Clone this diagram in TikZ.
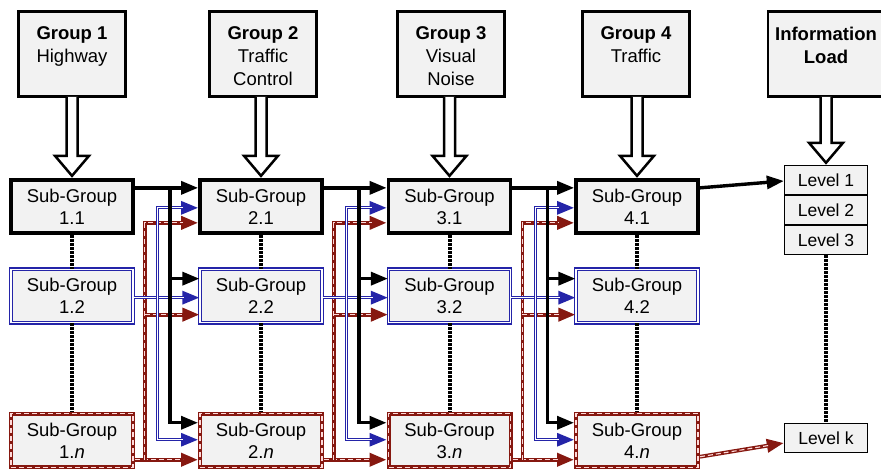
\documentclass[tikz,border=0pt]{standalone}
\usepackage{fontspec}
\setmainfont{Liberation Sans}
\usetikzlibrary{arrows.meta,calc}
\definecolor{boxfill}{HTML}{F2F2F2}
\definecolor{bluec}{HTML}{2424A8}
\definecolor{redc}{HTML}{861810}
\newcommand\holarrow[2]{%
  \draw[hol] let \p1=(#1.south), \p2=(#2.north) in
    (\x2-5.5pt,\y1+1pt) -- (\x2-5.5pt,\y2+22pt) -- (\x2-17pt,\y2+22pt) --
    (\x2,\y2+2pt) -- (\x2+17pt,\y2+22pt) -- (\x2+5.5pt,\y2+22pt) -- (\x2+5.5pt,\y1+1pt);}
\newcommand\twoline[3]{\draw[#1] #3; \draw[#2] #3;}
\begin{document}
\begin{tikzpicture}[x=1pt,y=-1pt,
  mytri/.tip={Triangle[length=17pt,width=13pt]},
  grp/.style={draw, line width=2.8pt, fill=boxfill, minimum width=107pt,
    minimum height=85pt, inner sep=0pt, font=\fontsize{18.5}{23}\selectfont},
  sub/.style={fill=boxfill, minimum width=122pt, minimum height=53.5pt,
    inner sep=0pt, align=center, font=\fontsize{18.5}{22}\selectfont},
  subk/.style={sub, draw, line width=3.8pt},
  subb/.style={sub, draw=bluec, line width=1.2pt, double=white, double distance=1.2pt},
  subr/.style={sub, draw=redc, line width=4pt,
    postaction={draw=white!85!red, line width=1.1pt, dash pattern=on 5pt off 3pt}},
  lvl/.style={draw, line width=1.4pt, fill=boxfill, minimum width=83pt,
    minimum height=29pt, inner sep=0pt, font=\fontsize{17.5}{20}\selectfont},
  hol/.style={draw, line width=2.5pt, fill=white, line join=miter},
  blk/.style={draw, line width=3.4pt, -mytri},
  blul/.style={draw=bluec, line width=3pt},
  bluin/.style={draw=white, line width=1pt, shorten >=15pt},
  bluin2/.style={draw=white, line width=1pt, shorten >=15pt, shorten <=15pt},
  redl/.style={draw=redc, line width=3.8pt},
  redin/.style={draw=white!85!red, line width=1.1pt, dash pattern=on 5pt off 3pt, shorten >=15pt},
  dts/.style={draw, line width=4pt, dash pattern=on 3pt off 1pt}]
\fill[white] (0,0) rectangle (881,470);
\useasboundingbox (0,0) rectangle (881,470);

% group boxes
\node[grp] (g1) at (72,54) {\parbox[c][54pt][t]{104pt}{\centering\textbf{Group 1}\\Highway}};
\node[grp] (g2) at (263,54) {\parbox[c][54pt][t]{104pt}{\centering\textbf{Group 2}\\Traffic\\Control}};
\node[grp] (g3) at (451,54) {\parbox[c][54pt][t]{104pt}{\centering\textbf{Group 3}\\Visual\\Noise}};
\node[grp] (g4) at (636,54) {\parbox[c][54pt][t]{104pt}{\centering\textbf{Group 4}\\Traffic}};
\node[grp, minimum width=116pt] (gi) at (826,54) {\parbox[c][54pt][t]{112pt}{\centering\textbf{Information}\\\textbf{Load}}};

% sub-group boxes
\node[subk] (s1-1) at (72,206.5) {Sub-Group\\1.1};
\node[subb] (s1-2) at (72,296) {Sub-Group\\1.2};
\node[subr] (s1-3) at (72,440.5) {Sub-Group\\1.\textit{n}};
\node[subk] (s2-1) at (261,206.5) {Sub-Group\\2.1};
\node[subb] (s2-2) at (261,296) {Sub-Group\\2.2};
\node[subr] (s2-3) at (261,440.5) {Sub-Group\\2.\textit{n}};
\node[subk] (s3-1) at (449.5,206.5) {Sub-Group\\3.1};
\node[subb] (s3-2) at (449.5,296) {Sub-Group\\3.2};
\node[subr] (s3-3) at (449.5,440.5) {Sub-Group\\3.\textit{n}};
\node[subk] (s4-1) at (637,206.5) {Sub-Group\\4.1};
\node[subb] (s4-2) at (637,296) {Sub-Group\\4.2};
\node[subr] (s4-3) at (637,440.5) {Sub-Group\\4.\textit{n}};

% levels
\node[lvl] (lv1) at (826,180) {Level 1};
\node[lvl] (lv2) at (826,210) {Level 2};
\node[lvl] (lv3) at (826,240) {Level 3};
\node[lvl] (lvk) at (826,438) {Level k};

% hollow arrows
\holarrow{g1}{s1-1}
\holarrow{g2}{s2-1}
\holarrow{g3}{s3-1}
\holarrow{g4}{s4-1}
\holarrow{gi}{lv1}

% dotted vertical links
\foreach \c in {1,2,3,4}{
  \draw[dts] (s\c-1.south) -- (s\c-2.north);
  \draw[dts] (s\c-2.south) -- (s\c-3.north);
}
\draw[dts] (lv3.south) -- (lvk.north);

% connectors between columns
\foreach \a/\b in {1/2,2/3,3/4}{
  \coordinate (kx) at ($(s\a-1.east)+(35,0)$);
  \coordinate (lx) at ($(s\a-1.east)+(23,0)$);
  \coordinate (rx) at ($(s\a-1.east)+(10,0)$);
  \coordinate (kb1) at ($(s\b-1.north west)+(0,10)$);
  \coordinate (kb2) at ($(s\b-2.north west)+(0,10)$);
  \coordinate (kb3) at ($(s\b-3.north west)+(0,11)$);
  \coordinate (kl1) at ($(s\b-1.north west)+(0,30)$);
  \coordinate (kl2) at ($(s\b-2.north west)+(0,29)$);
  \coordinate (kl3) at ($(s\b-3.north west)+(0,28)$);
  \coordinate (kr1) at ($(s\b-1.north west)+(0,45)$);
  \coordinate (kr2) at ($(s\b-2.north west)+(0,46)$);
  \coordinate (kr3) at ($(s\b-3.north west)+(0,48)$);
  % red
  \twoline{redl,-mytri}{redin}{(s\a-3.east |- kr3) -- (kr3)}
  \twoline{redl,-mytri}{redin}{(rx |- kr3) -- (rx |- kr1) -- (kr1)}
  \twoline{redl,-mytri}{redin}{(rx |- kr2) -- (kr2)}
  % blue
  \twoline{blul,-mytri}{bluin}{(s\a-2.east |- kl2) -- (kl2)}
  \twoline{blul,{mytri}-{mytri}}{bluin2}{(kl1) -- (lx |- kl1) -- (lx |- kl3) -- (kl3)}
  % black
  \draw[blk] (s\a-1.east |- kb1) -- (kb1);
  \draw[blk] (kx |- kb1) -- (kx |- kb3) -- (kb3);
  \draw[blk] (kx |- kb2) -- (kb2);
}

% links to levels
\draw[blk] ($(s4-1.north east)+(0,10)$) -- ($(lv1.west)+(0,1)$);
\twoline{redl,-mytri}{redin}{($(s4-3.north east)+(0,45)$) -- ($(lvk.west)+(0,5)$)}
\end{tikzpicture}
\end{document}
